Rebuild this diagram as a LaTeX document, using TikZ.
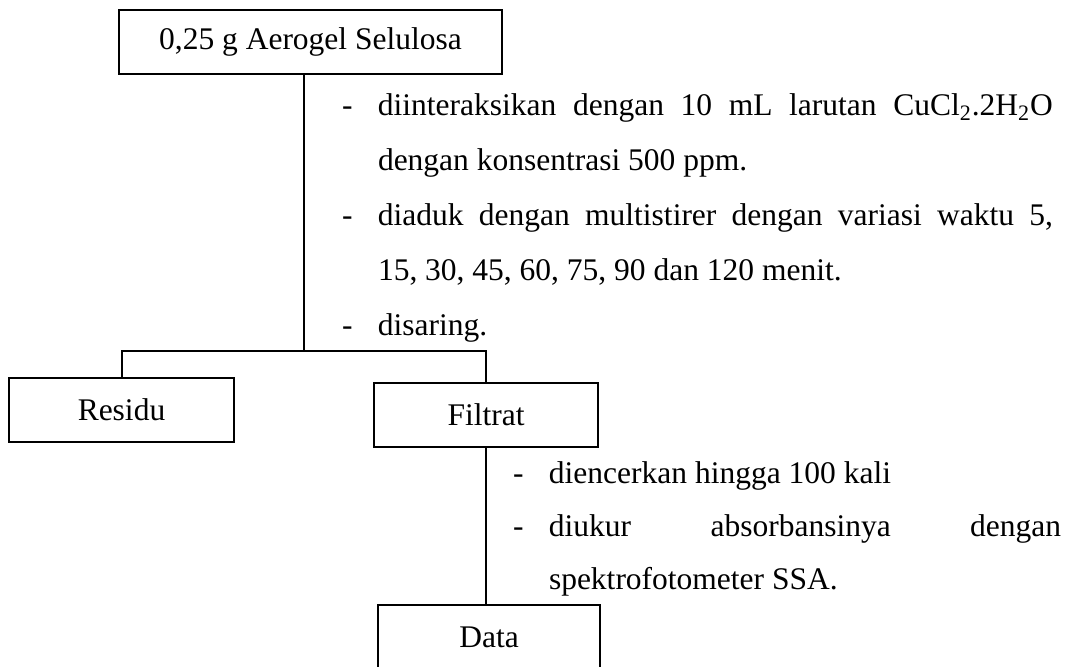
\documentclass[tikz,border=0pt]{standalone}
\usepackage{fontspec}
\setmainfont{Liberation Serif}
\newcommand{\langkah}{\noindent\llap{\makebox[18pt][l]{-}}}
\begin{document}
\begin{tikzpicture}[x=0.5pt,y=-0.5pt,line width=1pt,
 kotak/.style={draw, inner sep=0pt, minimum height=32pt, font=\fontsize{15.75}{18}\selectfont},
 proses/.style={anchor=north west, inner sep=0pt, align=justify}]
\useasboundingbox (0,0) rectangle (1067,666);
\node[kotak, minimum width=191.5pt] (sampel) at (310.5,42) {0,25 g Aerogel Selulosa};
\node[kotak, minimum width=112.5pt] (residu) at (121.5,410) {Residu};
\node[kotak, minimum width=112pt] (filtrat) at (486,414.5) {Filtrat};
\node[kotak, minimum width=111pt] (data) at (489,637) {Data};
\coordinate (cabang) at (304,351);
\draw (sampel.south -| cabang)--(cabang);
\draw (residu.north) |- (filtrat.north |- cabang)--(filtrat.north);
\draw (filtrat.south)--(filtrat.south |- data.north);
\node[proses, text width=337.5pt, font=\fontsize{15.75}{27.5}\selectfont] (langkah1) at (377,92.5)
{\langkah diinteraksikan dengan 10 mL larutan CuCl\textsubscript{2}.2H\textsubscript{2}O\linebreak dengan konsentrasi 500 ppm.
\par\langkah diaduk dengan multistirer dengan variasi waktu 5,\linebreak 15, 30, 45, 60, 75, 90 dan 120 menit.
\par\langkah disaring.};
\node[proses, text width=256pt, font=\fontsize{15.75}{26.5}\selectfont] (langkah2) at (548,460.5)
{\langkah diencerkan hingga 100 kali
\par\langkah diukur absorbansinya dengan\linebreak spektrofotometer SSA.};
\end{tikzpicture}
\end{document}
